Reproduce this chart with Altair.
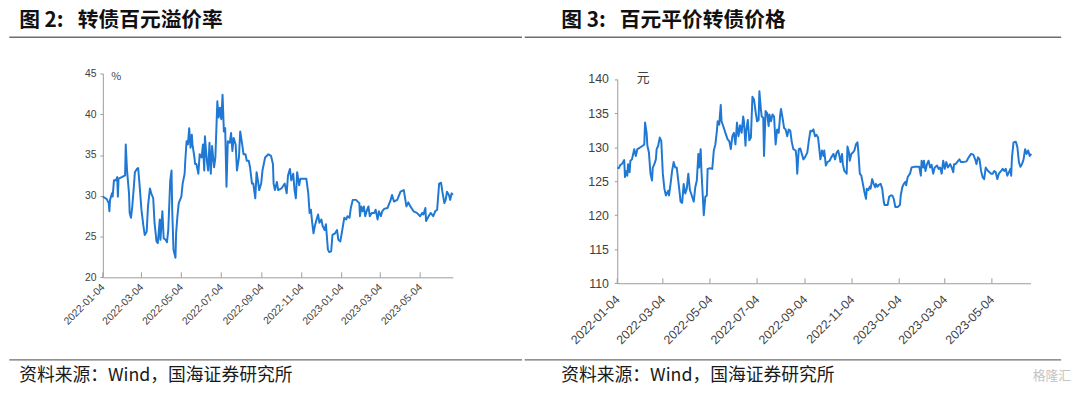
import altair as alt
import pandas as pd

START = "2022-01-04"
X_END = "2023-06-23"
TICK_DATES = ["2022-01-04", "2022-03-04", "2022-05-04", "2022-07-04", "2022-09-04",
              "2022-11-04", "2023-01-04", "2023-03-04", "2023-05-04"]

# 图2 转债百元溢价率 (%): days since 2022-01-04, value
left_days = [
    0, 4, 6, 9, 10, 11, 14, 15, 17, 20,
    22, 23, 24, 29, 34, 35, 37, 40, 41, 43,
    45, 47, 49, 52, 54, 56, 59, 62, 64, 67,
    69, 72, 74, 77, 79, 82, 84, 87, 88, 91,
    93, 96, 98, 100, 103, 105, 106, 108, 111, 112,
    114, 116, 120, 122, 125, 126, 128, 130, 132, 134,
    136, 137, 140, 141, 143, 146, 148, 151, 153, 155,
    156, 159, 161, 163, 165, 167, 170, 172, 175, 177,
    179, 181, 183, 185, 187, 189, 191, 194, 196, 198,
    200, 203, 205, 208, 210, 213, 215, 218, 220, 223,
    225, 228, 230, 233, 235, 237, 239, 242, 244, 248,
    253, 257, 260, 261, 263, 266, 268, 273, 278, 281,
    283, 286, 288, 291, 293, 295, 297, 300, 302, 306,
    311, 314, 316, 318, 320, 322, 324, 326, 329, 331,
    334, 336, 339, 341, 344, 346, 349, 351, 355, 358,
    360, 363, 367, 369, 372, 374, 377, 379, 382, 387,
    392, 393, 395, 397, 399, 401, 404, 406, 408, 411,
    415, 417, 420, 422, 425, 427, 430, 435, 440, 442,
    445, 450, 455, 460, 464, 467, 470, 475, 480, 485,
    488, 490, 493, 494, 498, 501, 505, 508, 511, 514,
    517, 519, 522, 524, 526, 529, 531, 533, 535,
]
left_vals = [
    29.9, 29.7, 29.6, 29.1, 28.1, 29.5, 30.3, 29.9, 31.9, 31.9,
    32.3, 29.9, 32.1, 32.3, 32.5, 36.3, 33.1, 30.3, 27.9, 27.3,
    28.7, 30.7, 32.9, 33.3, 33.4, 31.5, 28.3, 26.3, 25.2, 25.6,
    28.7, 30.9, 30.3, 29.7, 26.7, 24.4, 24.2, 27.1, 24.6, 28.1,
    24.8, 24.6, 24.3, 25.8, 31.9, 33.1, 28.3, 23.4, 22.4, 25.4,
    27.5, 29.1, 29.9, 31.5, 32.7, 34.3, 36.7, 36.3, 38.3, 35.9,
    37.5, 36.3, 34.7, 33.9, 33.9, 32.7, 35.1, 34.7, 36.3, 33.1,
    37.3, 34.3, 33.1, 36.5, 32.7, 36.1, 33.5, 34.7, 41.6, 39.6,
    40.8, 39.4, 42.4, 37.9, 38.3, 31.1, 36.7, 36.5, 37.7, 35.5,
    37.1, 36.3, 33.1, 34.7, 37.9, 36.3, 35.1, 35.1, 34.3, 34.3,
    33.5, 31.5, 31.5, 29.7, 32.9, 31.9, 30.7, 31.5, 33.1, 34.7,
    35.1, 34.9, 33.9, 31.5, 30.7, 31.7, 30.7, 30.9, 31.5, 30.3,
    32.5, 33.3, 31.9, 32.7, 30.7, 29.7, 32.9, 31.3, 32.1, 32.1,
    32.1, 30.3, 27.9, 28.3, 26.7, 25.4, 26.3, 26.9, 27.7, 26.7,
    27.1, 26.3, 25.8, 26.5, 23.4, 23.1, 23.2, 25.2, 25.4, 25.8,
    24.6, 24.4, 26.3, 27.3, 27.1, 27.5, 27.3, 28.5, 29.5, 29.5,
    29.1, 27.5, 28.7, 28.1, 28.7, 27.5, 28.3, 28.7, 27.5, 27.9,
    27.9, 28.3, 27.1, 28.1, 27.5, 28.1, 28.4, 28.5, 29.5, 30.1,
    29.3, 29.5, 30.5, 30.7, 28.7, 29.2, 28.7, 28.1, 27.9, 27.5,
    27.9, 27.7, 28.5, 26.9, 27.5, 27.9, 27.5, 28.1, 28.3, 31.5,
    31.6, 30.5, 29.1, 29.5, 30.5, 30.1, 29.5, 30.3, 30.1,
]

# 图3 百元平价转债价格 (元)
right_days = [
    0, 2, 4, 6, 9, 10, 11, 13, 14, 16,
    17, 19, 20, 22, 24, 26, 29, 33, 35, 36,
    38, 39, 41, 43, 45, 46, 48, 50, 51, 53,
    55, 57, 59, 61, 63, 66, 67, 69, 71, 73,
    75, 77, 80, 82, 84, 86, 88, 90, 92, 94,
    97, 99, 101, 103, 105, 106, 108, 109, 111, 112,
    114, 116, 117, 120, 123, 125, 127, 129, 130, 132,
    134, 135, 138, 140, 143, 145, 147, 149, 151, 153,
    155, 157, 159, 161, 163, 164, 166, 167, 169, 171,
    173, 175, 177, 179, 181, 183, 184, 186, 187, 189,
    190, 192, 194, 196, 197, 199, 201, 203, 205, 207,
    209, 211, 212, 214, 216, 218, 220, 222, 224, 226,
    228, 231, 232, 233, 235, 237, 239, 241, 243, 246,
    248, 250, 252, 254, 256, 258, 260, 263, 265, 267,
    268, 270, 272, 275, 277, 280, 282, 284, 286, 288,
    289, 291, 292, 294, 297, 298, 300, 301, 303, 305,
    307, 309, 311, 312, 314, 316, 318, 320, 322, 323,
    325, 327, 328, 330, 332, 334, 335, 337, 339, 341,
    343, 345, 346, 350, 352, 354, 356, 358, 360, 363,
    366, 367, 369, 371, 373, 374, 376, 379, 381, 384,
    388, 391, 393, 394, 396, 397, 399, 401, 403, 405,
    407, 409, 411, 414, 416, 418, 420, 422, 424, 426,
    428, 431, 433, 435, 436, 438, 440, 443, 445, 448,
    452, 455, 458, 461, 464, 465, 467, 469, 471, 473,
    475, 477, 480, 482, 484, 486, 488, 490, 492, 494,
    497, 499, 501, 503, 505, 507, 509, 510, 511, 513,
    516, 518, 520, 522, 524, 526, 528, 530, 532, 534,
    536,
]
right_vals = [
    127.0, 126.9, 127.4, 127.5, 128.1, 125.6, 126.5, 125.8, 127.5, 126.3,
    128.0, 128.2, 128.7, 129.7, 128.7, 129.7, 129.9, 130.2, 130.4, 133.6,
    132.1, 130.2, 129.2, 126.1, 125.1, 127.0, 127.5, 128.2, 129.7, 130.2,
    131.4, 130.9, 126.1, 123.9, 122.9, 123.6, 122.9, 124.6, 126.5, 127.8,
    127.0, 127.0, 124.1, 122.0, 121.8, 124.6, 123.2, 123.9, 126.1, 123.7,
    122.7, 122.0, 124.1, 125.1, 129.0, 127.0, 129.7, 126.5, 122.2, 120.0,
    122.7, 122.9, 126.8, 126.9, 126.8, 129.5, 130.4, 132.4, 133.8, 133.3,
    136.2, 133.8, 132.8, 132.1, 131.1, 130.9, 129.7, 131.6, 132.1, 130.4,
    133.6, 131.6, 133.2, 132.1, 134.5, 133.8, 130.2, 132.4, 134.0, 131.0,
    131.4, 137.4, 137.0, 135.3, 133.8, 134.0, 138.2, 135.5, 134.5, 134.3,
    128.7, 135.3, 135.0, 133.1, 134.8, 133.8, 134.8, 134.5, 130.4, 132.6,
    132.1, 134.8, 135.6, 134.3, 132.8, 132.6, 131.6, 132.6, 132.4, 130.7,
    129.7, 129.5, 128.5, 126.1, 129.7, 129.8, 129.0, 128.2, 128.5, 129.2,
    130.9, 132.4, 132.3, 132.6, 131.6, 131.8, 131.4, 128.2, 129.5, 128.7,
    129.5, 127.3, 127.8, 128.0, 128.5, 129.0, 128.2, 129.2, 129.5, 128.5,
    127.8, 129.0, 127.5, 126.5, 126.1, 130.1, 129.2, 128.0, 129.0, 129.2,
    129.5, 130.4, 130.7, 129.5, 126.1, 125.8, 124.6, 123.4, 122.4, 123.9,
    123.7, 124.2, 123.9, 125.3, 124.6, 124.1, 124.6, 124.2, 124.5, 124.6,
    123.9, 122.0, 121.5, 121.5, 122.7, 122.9, 122.9, 122.4, 121.2, 121.2,
    121.5, 122.9, 124.1, 124.6, 124.9, 124.4, 125.6, 126.1, 127.0, 127.1,
    127.1, 127.1, 125.8, 128.0, 127.0, 128.0, 126.5, 127.5, 128.0, 127.0,
    127.4, 126.1, 127.0, 127.3, 126.8, 127.0, 126.1, 128.0, 126.8, 127.8,
    127.0, 127.5, 127.0, 126.3, 127.5, 127.5, 127.8, 128.2, 127.8, 127.8,
    127.9, 128.5, 129.0, 128.9, 128.0, 127.5, 128.5, 128.2, 126.5, 125.6,
    125.3, 127.0, 126.5, 126.3, 126.1, 126.1, 126.5, 126.3, 125.3, 126.1,
    126.5, 126.8, 126.5, 126.8, 125.8, 126.3, 126.8, 125.8, 128.5, 130.7,
    130.8, 130.0, 127.8, 127.1, 127.5, 128.2, 129.7, 129.0, 129.5, 128.7,
    129.0,
]
assert len(left_days) == len(left_vals)
assert len(right_days) == len(right_vals)

NBSP = "\u00a0"
left_title = "图 2:" + NBSP * 3 + "转债百元溢价率"
right_title = "图 3:" + NBSP * 3 + "百元平价转债价格"
source_text = "资料来源：Wind，国海证券研究所"
watermark = "格隆汇"
left_unit = "%"
right_unit = "元"
left_y_ticks = [20, 25, 30, 35, 40, 45]
right_y_ticks = [110, 115, 120, 125, 130, 135, 140]

LINE = "#1f78d4"
AXIS = "#9a9a9a"
LABEL = "#404040"
CJK = "Noto Sans CJK SC"
LAT = "Liberation Sans"


def to_dates(days):
    idx = pd.Timestamp(START) + pd.to_timedelta(days, unit="D")
    return list(idx.strftime("%Y-%m-%dT00:00:00"))


def dt(s):
    y, m, d = (int(p) for p in s.split("-"))
    return alt.DateTime(year=y, month=m, date=d)


ONE = pd.DataFrame({"k": [0]})


def panel(days, vals, ydom, yticks, w, h, yrange, fs_x, fs_y, pad_x, pad_y,
          unit, unit_xy, unit_fs, title, title_x, rule_x, frame_x, extra=None):
    df = pd.DataFrame({"date": to_dates(days), "v": vals})
    xscale = alt.Scale(domain=[dt(START), dt(X_END)])
    yscale = alt.Scale(domain=ydom, range=yrange, nice=False, zero=False)
    line = alt.Chart(df).mark_line(color=LINE, strokeWidth=2, strokeJoin="round").encode(
        x=alt.X("date:T", scale=xscale, title=None,
                axis=alt.Axis(values=[dt(s) for s in TICK_DATES], format="%Y-%m-%d",
                              labelAngle=315, labelAlign="right", labelBaseline="middle",
                              labelFontSize=fs_x, labelFont=LAT, labelColor=LABEL,
                              labelPadding=pad_x, ticks=False, tickSize=0,
                              domainColor=AXIS, grid=False, labelOverlap=False,
                              labelFlush=False, labelBound=False)),
        y=alt.Y("v:Q", scale=yscale, title=None,
                axis=alt.Axis(values=yticks, tickSize=3, tickColor=AXIS, domainColor=AXIS,
                              labelFontSize=fs_y, labelFont=LAT, labelColor=LABEL,
                              labelPadding=pad_y, grid=False, labelFlush=False)),
    )
    tick_df = pd.DataFrame({"date": [s + "T00:00:00" for s in TICK_DATES]})
    ticks = alt.Chart(tick_df).mark_rule(color=AXIS, strokeWidth=1).encode(
        x=alt.X("date:T"), y=alt.value(h), y2=alt.value(h - 5))
    unit_t = alt.Chart(ONE).mark_text(text=unit, font=CJK, fontSize=unit_fs, color=LABEL,
                                      align="center", baseline="middle").encode(
        x=alt.value(unit_xy[0]), y=alt.value(unit_xy[1]))
    title_t = alt.Chart(ONE).mark_text(text=title, font=CJK, fontSize=21, fontWeight="bold",
                                       color="#111111", align="left", baseline="middle").encode(
        x=alt.value(title_x), y=alt.value(-52.7))
    foot_t = alt.Chart(ONE).mark_text(text=source_text, font=CJK, fontSize=18, color="#1a1a1a",
                                      align="left", baseline="middle").encode(
        x=alt.value(title_x), y=alt.value(305.8))
    rule_top = alt.Chart(ONE).mark_rule(color="#6e6e6e", strokeWidth=1.3).encode(
        x=alt.value(rule_x[0]), x2=alt.value(rule_x[1]), y=alt.value(-36.7))
    rule_bot = alt.Chart(ONE).mark_rule(color="#6e6e6e", strokeWidth=1.3).encode(
        x=alt.value(rule_x[0]), x2=alt.value(rule_x[1]), y=alt.value(289.8))
    frame = alt.Chart(ONE).mark_rule(strokeOpacity=0, strokeWidth=0.01).encode(
        x=alt.value(frame_x), y=alt.value(-63.7), y2=alt.value(312.3))
    layers = [line, ticks, unit_t, title_t, foot_t, rule_top, rule_bot, frame]
    if extra is not None:
        layers.append(extra)
    return alt.layer(*layers).properties(width=w, height=h)


left = panel(left_days, left_vals, [20, 45], left_y_ticks, 354.3, 206.3, [206.3, 0],
             10.5, 10.5, 8, 4, left_unit, (13.5, 3.3), 11, left_title, -84.7,
             (-94.7, 424.3), -94.7)

wm = alt.Chart(ONE).mark_text(text=watermark, font=CJK, fontSize=13, color="#c4c4c4",
                              align="center", baseline="middle").encode(
    x=alt.value(440), y=alt.value(305.8))

right = panel(right_days, right_vals, [110, 140], right_y_ticks, 418.3, 212.3, [212.3, 5.6],
              12.5, 12.5, 14, 6, right_unit, (26.3, 4.3), 13, right_title, -56.7,
              (-93.7, 449.3), 449.3, extra=wm)

chart = alt.hconcat(left, right, spacing=165.7, bounds="flush").properties(
    padding=0
).configure_view(stroke=None)

chart.save("out.html", embed_options={"renderer": "svg", "actions": False})
